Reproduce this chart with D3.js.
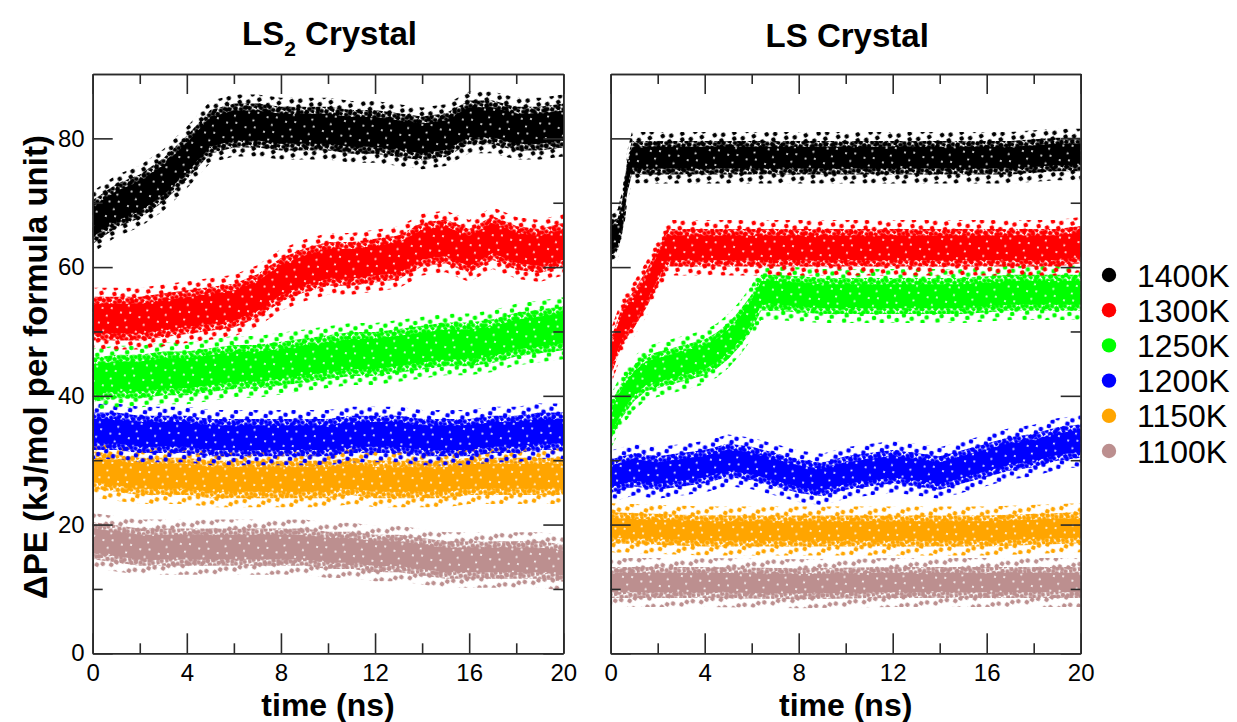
<!DOCTYPE html>
<html>
<head>
<meta charset="utf-8">
<script src="https://cdn.jsdelivr.net/npm/d3@7/dist/d3.min.js"></script>
<style>
  body { margin: 0; background: #fff; }
  text { font-family: "Liberation Sans", Arial, Helvetica, sans-serif; fill: #000; }
</style>
</head>
<body>
<script>
// ---------------- DATA ----------------
const categories = ["1400K", "1300K", "1250K", "1200K", "1150K", "1100K"];
const panelTitles = ["LS2 Crystal", "LS Crystal"];
const xTicksMajor = [0, 4, 8, 12, 16, 20];
const xTicksMinor = [2, 6, 10, 14, 18];
const yTicksMajor = [0, 20, 40, 60, 80];
const yTicksMinor = [10, 30, 50, 70];

// LS2 crystal: time knots (ns) and band centre values (kJ/mol)
const timeLS2 = [0, 1, 2, 3, 4, 5, 6, 7, 8, 9, 10, 11, 12, 13, 14, 15, 16, 17, 18, 19, 20];
const ls2_1400 = [67, 69.5, 71, 73.5, 77, 81, 82, 82, 81.5, 81.5, 81.5, 81, 81, 80.5, 80, 80.5, 82.5, 82.5, 81.5, 81.5, 82];
const ls2_1300 = [52, 52, 52, 52.5, 53, 53.5, 54, 55.5, 58, 59.5, 60.5, 60.5, 61, 61.5, 63.5, 64, 62.5, 64.5, 63, 62.5, 63.5];
const ls2_1250 = [42.5, 43, 43, 43.5, 43.5, 44, 44.5, 44.5, 45, 45.5, 46, 46.5, 46.5, 47, 47.5, 48, 48, 48.5, 49.5, 50, 50.5];
const ls2_1200 = [34.5, 34.5, 34, 34, 34, 33.5, 33.5, 33.5, 33.5, 33.5, 33.5, 34, 34, 34, 33.5, 33.5, 33.5, 34, 34, 34.5, 34.5];
const ls2_1150 = [28.5, 28, 27.5, 27.5, 27.5, 27, 27, 27, 27, 27, 27, 27.5, 27, 27, 27, 27, 27.5, 27.5, 27.5, 27.5, 27.5];
const ls2_1100 = [17.5, 17, 16.5, 16.5, 16.5, 16.5, 16.5, 16.5, 16.5, 16.5, 16, 16, 15.5, 15.5, 15, 14.5, 14.5, 14.5, 14.5, 14.5, 14];
// half-width of each cloud (kJ/mol)
const ls2Spread = [2.9, 2.9, 2.9, 2.4, 2.4, 2.4];

// LS crystal
const timeLS_1400 = [0, 0.3, 0.5, 0.7, 0.9, 1.5, 3, 5, 7, 9, 11, 13, 15, 17, 19, 20];
const ls_1400 = [64.5, 65, 68, 74, 77, 77, 77, 77, 77, 77, 77, 77, 77, 77, 77.5, 77.5];
const timeLS_1300 = [0, 0.5, 1, 1.5, 2, 2.4, 3, 5, 7, 9, 11, 13, 15, 17, 19, 20];
const ls_1300 = [46, 51, 53.5, 56.5, 60, 63, 63, 63, 63, 63, 63, 63, 63, 63, 63, 63.5];
const timeLS_1250 = [0, 0.5, 1, 1.5, 2, 3, 4, 4.5, 5, 5.5, 6, 6.4, 7, 9, 11, 13, 15, 17, 19, 20];
const ls_1250 = [36, 39.5, 42, 43.5, 44, 45, 46, 47, 48.5, 50.5, 53, 56, 56, 55.5, 55.5, 55.5, 55.5, 56, 56, 56];
const timeLS_1200 = [0, 1, 2, 3, 4, 5, 6, 7, 8, 9, 10, 11, 12, 13, 14, 15, 16, 17, 18, 19, 20];
const ls_1200 = [27.5, 28.5, 28, 28.5, 29, 30, 29.5, 28.5, 27.5, 27, 28, 28.5, 29, 28.5, 28, 29, 30, 31, 31.5, 32.5, 33];
const timeLS_1150 = [0, 4, 8, 12, 16, 20];
const ls_1150 = [19.5, 19, 19, 19, 19, 19.5];
const timeLS_1100 = [0, 4, 8, 12, 16, 20];
const ls_1100 = [11, 11, 10.8, 11, 11, 11];
const lsSpread = [2.1, 2.4, 2.3, 2.1, 1.9, 1.9];

// ---------------- STYLE ----------------
const colors = ["#000000", "#ff0000", "#00ff00", "#0000ff", "#ffa500", "#bc8f8f"];
const CORE = 0.8;   // fraction of the half-width drawn as solid core
const INNER = 0.5;  // dense-dot fringe beyond the half-width (kJ/mol)
const OUTER = 1.9;  // sparse-dot fringe beyond the half-width (kJ/mol)

const W = 1237, H = 722;
const svg = d3.select("body").append("svg").attr("width", W).attr("height", H);

// dot textures for the fringes, white specks for the core
const defs = svg.append("defs");
colors.forEach((c, i) => {
  const dense = defs.append("pattern")
    .attr("id", "dense" + i).attr("patternUnits", "userSpaceOnUse")
    .attr("width", 9).attr("height", 9)
    .attr("patternTransform", "rotate(" + (23 + i * 11) + ")");
  [[2, 2], [6.5, 3.5], [3.5, 6.5], [7.5, 8]].forEach(([cx, cy]) =>
    dense.append("circle").attr("cx", cx).attr("cy", cy).attr("r", 2.3).attr("fill", c));
  const sparse = defs.append("pattern")
    .attr("id", "sparse" + i).attr("patternUnits", "userSpaceOnUse")
    .attr("width", 15).attr("height", 13)
    .attr("patternTransform", "rotate(" + (-31 + i * 13) + ")");
  [[3, 3], [10.5, 7], [6, 11]].forEach(([cx, cy]) =>
    sparse.append("circle").attr("cx", cx).attr("cy", cy).attr("r", 2.3).attr("fill", c));
});
const specks = defs.append("pattern")
  .attr("id", "specks").attr("patternUnits", "userSpaceOnUse")
  .attr("width", 19).attr("height", 15).attr("patternTransform", "rotate(14)");
[[3, 4], [12, 2], [9, 10.5]].forEach(([cx, cy]) =>
  specks.append("circle").attr("cx", cx).attr("cy", cy).attr("r", 1.0).attr("fill", "#fff"));

const y = d3.scaleLinear().domain([0, 90]).range([653.3, 74]);
const xLeft = d3.scaleLinear().domain([0, 20]).range([92.7, 563.3]);
const xRight = d3.scaleLinear().domain([0, 20]).range([610.7, 1080.7]);

const panels = [
  {
    x: xLeft, showY: true,
    series: [
      { t: timeLS2, v: ls2_1400, hw: ls2Spread[0] },
      { t: timeLS2, v: ls2_1300, hw: ls2Spread[1] },
      { t: timeLS2, v: ls2_1250, hw: ls2Spread[2] },
      { t: timeLS2, v: ls2_1200, hw: ls2Spread[3] },
      { t: timeLS2, v: ls2_1150, hw: ls2Spread[4] },
      { t: timeLS2, v: ls2_1100, hw: ls2Spread[5] }
    ]
  },
  {
    x: xRight, showY: false,
    series: [
      { t: timeLS_1400, v: ls_1400, hw: lsSpread[0] },
      { t: timeLS_1300, v: ls_1300, hw: lsSpread[1] },
      { t: timeLS_1250, v: ls_1250, hw: lsSpread[2] },
      { t: timeLS_1200, v: ls_1200, hw: lsSpread[3] },
      { t: timeLS_1150, v: ls_1150, hw: lsSpread[4] },
      { t: timeLS_1100, v: ls_1100, hw: lsSpread[5] }
    ]
  }
];

const axisColor = "#2a2a2a";

panels.forEach((panel, pi) => {
  const g = svg.append("g");
  const x = panel.x;
  const band = (s, w) => d3.area()
    .x(d => x(d.t))
    .y0(d => y(d.v - w))
    .y1(d => y(d.v + w));
  // lower temperatures first so hotter clouds end on top
  for (let si = panel.series.length - 1; si >= 0; si--) {
    const s = panel.series[si];
    const pts = s.t.map((t, k) => ({ t: t, v: s.v[k] }));
    g.append("path").attr("d", band(s, s.hw + OUTER)(pts)).attr("fill", "url(#sparse" + si + ")");
    g.append("path").attr("d", band(s, s.hw + INNER)(pts)).attr("fill", "url(#dense" + si + ")");
    g.append("path").attr("d", band(s, s.hw * CORE)(pts)).attr("fill", colors[si]);
    g.append("path").attr("d", band(s, s.hw * CORE)(pts)).attr("fill", "url(#specks)");
  }

  // axes (inward ticks, mirrored on all sides)
  const y0 = y(0), yTop = y(90), xL = x(0), xR = x(20);
  const styleAxis = sel => {
    sel.selectAll("path, line").attr("stroke", axisColor).attr("stroke-width", 1.6);
    sel.selectAll("text").style("font-family", "'Liberation Sans', Arial, Helvetica, sans-serif")
      .style("font-size", "24px").attr("fill", "#000");
  };
  g.append("g").attr("transform", `translate(0,${y0})`)
    .call(d3.axisBottom(x).tickValues(xTicksMajor).tickSizeInner(-20).tickSizeOuter(0).tickPadding(11).tickFormat(d3.format("d")))
    .call(styleAxis);
  g.append("g").attr("transform", `translate(0,${y0})`)
    .call(d3.axisBottom(x).tickValues(xTicksMinor).tickSizeInner(-10).tickSizeOuter(0).tickFormat(""))
    .call(styleAxis);
  g.append("g").attr("transform", `translate(0,${yTop})`)
    .call(d3.axisTop(x).tickValues(xTicksMajor).tickSizeInner(-20).tickSizeOuter(0).tickFormat(""))
    .call(styleAxis);
  g.append("g").attr("transform", `translate(0,${yTop})`)
    .call(d3.axisTop(x).tickValues(xTicksMinor).tickSizeInner(-10).tickSizeOuter(0).tickFormat(""))
    .call(styleAxis);
  g.append("g").attr("transform", `translate(${xL},0)`)
    .call(d3.axisLeft(y).tickValues(yTicksMajor).tickSizeInner(-20).tickSizeOuter(0).tickPadding(8)
      .tickFormat(panel.showY ? d3.format("d") : ""))
    .call(styleAxis);
  g.append("g").attr("transform", `translate(${xL},0)`)
    .call(d3.axisLeft(y).tickValues(yTicksMinor).tickSizeInner(-10).tickSizeOuter(0).tickFormat(""))
    .call(styleAxis);
  g.append("g").attr("transform", `translate(${xR},0)`)
    .call(d3.axisRight(y).tickValues(yTicksMajor).tickSizeInner(-20).tickSizeOuter(0).tickFormat(""))
    .call(styleAxis);
  g.append("g").attr("transform", `translate(${xR},0)`)
    .call(d3.axisRight(y).tickValues(yTicksMinor).tickSizeInner(-10).tickSizeOuter(0).tickFormat(""))
    .call(styleAxis);

  // x-axis title
  const cx = (xL + xR) / 2;
  svg.append("text").attr("x", cx).attr("y", 716).attr("text-anchor", "middle")
    .style("font-size", "32px").style("font-weight", "bold").text("time (ns)");

  // panel title
  const title = svg.append("text").attr("x", cx + 1.5).attr("y", pi === 0 ? 45 : 46.7)
    .attr("text-anchor", "middle").style("font-size", "33px").style("font-weight", "bold");
  if (pi === 0) {
    title.append("tspan").text("LS");
    title.append("tspan").attr("dy", 11).style("font-size", "21px").text("2");
    title.append("tspan").attr("dy", -11).text(" Crystal");
  } else {
    title.text(panelTitles[1]);
  }
});

// y-axis title
svg.append("text")
  .attr("transform", "translate(47,367) rotate(-90)")
  .attr("text-anchor", "middle")
  .style("font-size", "33px").style("font-weight", "bold")
  .text("\u0394PE (kJ/mol per formula unit)");

// legend
const legend = svg.append("g");
categories.forEach((c, i) => {
  const ly = 275 + 35.2 * i;
  legend.append("circle").attr("cx", 1109).attr("cy", ly).attr("r", 7.2).attr("fill", colors[i]);
  legend.append("text").attr("x", 1137).attr("y", ly + 11.5)
    .style("font-size", "32px").text(c);
});
</script>
</body>
</html>
